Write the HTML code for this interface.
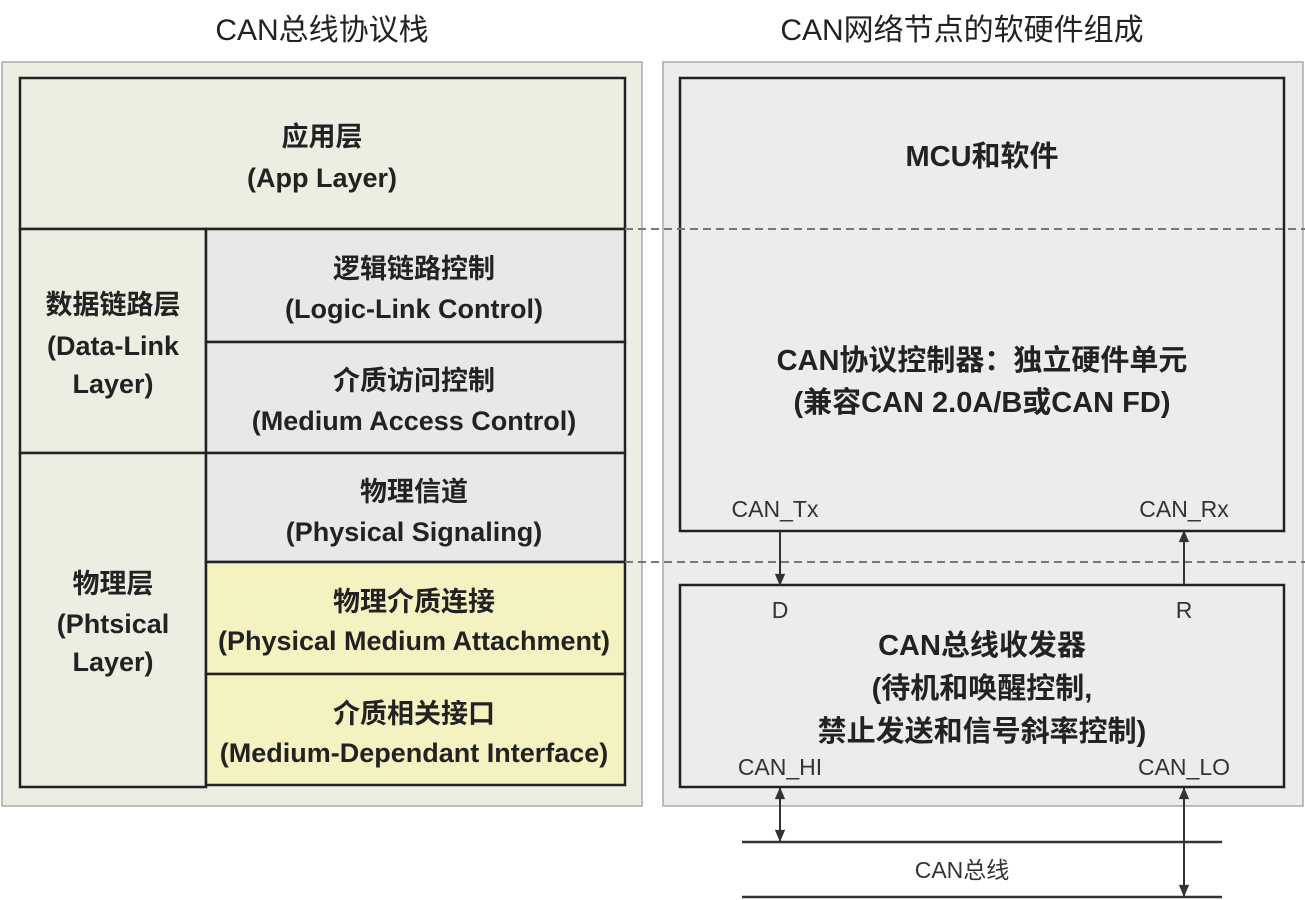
<!DOCTYPE html>
<html><head><meta charset="utf-8"><style>
html,body{margin:0;padding:0;background:#fff;}
svg{display:block;}
text{font-family:"Liberation Sans","Noto Sans CJK SC",sans-serif;fill:#222;text-anchor:middle;}
.b{font-size:27px;font-weight:bold;}
.r{font-size:29px;font-weight:bold;}
.t{font-size:30px;}
.s{font-size:23px;fill:#333;}
</style></head><body>
<svg width="1305" height="900" viewBox="0 0 1305 900">
<defs>
<marker id="ah" viewBox="0 0 12 14" refX="13" refY="6" markerWidth="14" markerHeight="12" markerUnits="userSpaceOnUse" orient="auto-start-reverse">
<path d="M0,0 L14,6 L0,12 z" fill="#333"/></marker>
</defs>
<text class="t" x="322" y="40">CAN总线协议栈</text>
<text class="t" x="962" y="40">CAN网络节点的软硬件组成</text>

<rect x="2" y="62" width="640" height="744" fill="#eeede1" stroke="#aaa" stroke-width="1.5"/>
<rect x="20" y="78" width="605" height="151" fill="#eeede1" stroke="#222" stroke-width="2.5"/>
<rect x="20" y="229" width="186" height="224" fill="#eeede1" stroke="#222" stroke-width="2.5"/>
<rect x="20" y="453" width="186" height="334" fill="#eeede1" stroke="#222" stroke-width="2.5"/>
<rect x="206" y="229" width="419" height="113" fill="#e8e8e8" stroke="#222" stroke-width="2.5"/>
<rect x="206" y="342" width="419" height="111" fill="#e8e8e8" stroke="#222" stroke-width="2.5"/>
<rect x="206" y="453" width="419" height="109" fill="#e8e8e8" stroke="#222" stroke-width="2.5"/>
<rect x="206" y="562" width="419" height="112" fill="#f5f2c2" stroke="#222" stroke-width="2.5"/>
<rect x="206" y="674" width="419" height="111" fill="#f5f2c2" stroke="#222" stroke-width="2.5"/>

<text class="b" x="322" y="146">应用层</text>
<text class="b" x="322" y="187">(App Layer)</text>
<text class="b" x="113" y="314">数据链路层</text>
<text class="b" x="113" y="355">(Data-Link</text>
<text class="b" x="113" y="393">Layer)</text>
<text class="b" x="414" y="278">逻辑链路控制</text>
<text class="b" x="414" y="318">(Logic-Link Control)</text>
<text class="b" x="414" y="390">介质访问控制</text>
<text class="b" x="414" y="430">(Medium Access Control)</text>
<text class="b" x="414" y="501">物理信道</text>
<text class="b" x="414" y="541">(Physical Signaling)</text>
<text class="b" x="113" y="593">物理层</text>
<text class="b" x="113" y="633">(Phtsical</text>
<text class="b" x="113" y="671">Layer)</text>
<text class="b" x="414" y="611">物理介质连接</text>
<text class="b" x="414" y="650">(Physical Medium Attachment)</text>
<text class="b" x="414" y="723">介质相关接口</text>
<text class="b" x="414" y="762">(Medium-Dependant Interface)</text>

<rect x="663" y="62" width="640" height="744" fill="#ececec" stroke="#aaa" stroke-width="1.5"/>
<rect x="680" y="78" width="604" height="453" fill="#ececec" stroke="#222" stroke-width="2.5"/>
<rect x="680" y="585" width="604" height="202" fill="#ececec" stroke="#222" stroke-width="2.5"/>
<line x1="625" y1="229" x2="1305" y2="229" stroke="#777" stroke-width="2" stroke-dasharray="8,5"/>
<line x1="625" y1="562" x2="1305" y2="562" stroke="#777" stroke-width="2" stroke-dasharray="8,5"/>

<text class="r" x="982" y="166">MCU和软件</text>
<text class="r" x="982" y="370">CAN协议控制器：独立硬件单元</text>
<text class="r" x="982" y="412">(兼容CAN 2.0A/B或CAN FD)</text>
<text class="s" x="775" y="517">CAN_Tx</text>
<text class="s" x="1184" y="517">CAN_Rx</text>
<text class="s" x="780" y="618">D</text>
<text class="s" x="1184" y="618">R</text>
<text class="r" x="982" y="655">CAN总线收发器</text>
<text class="r" x="982" y="698">(待机和唤醒控制,</text>
<text class="r" x="982" y="741">禁止发送和信号斜率控制)</text>
<text class="s" x="780" y="775">CAN_HI</text>
<text class="s" x="1184" y="775">CAN_LO</text>

<line x1="780" y1="531" x2="780" y2="585" stroke="#333" stroke-width="2" marker-end="url(#ah)"/>
<line x1="1184" y1="585" x2="1184" y2="531" stroke="#333" stroke-width="2" marker-end="url(#ah)"/>
<line x1="780" y1="788" x2="780" y2="841" stroke="#333" stroke-width="2" marker-start="url(#ah)" marker-end="url(#ah)"/>
<line x1="1184" y1="788" x2="1184" y2="896" stroke="#333" stroke-width="2" marker-start="url(#ah)" marker-end="url(#ah)"/>
<line x1="742" y1="842" x2="1222" y2="842" stroke="#333" stroke-width="2.5"/>
<line x1="742" y1="897" x2="1222" y2="897" stroke="#333" stroke-width="2.5"/>
<text class="s" x="962" y="878">CAN总线</text>
</svg>
</body></html>
